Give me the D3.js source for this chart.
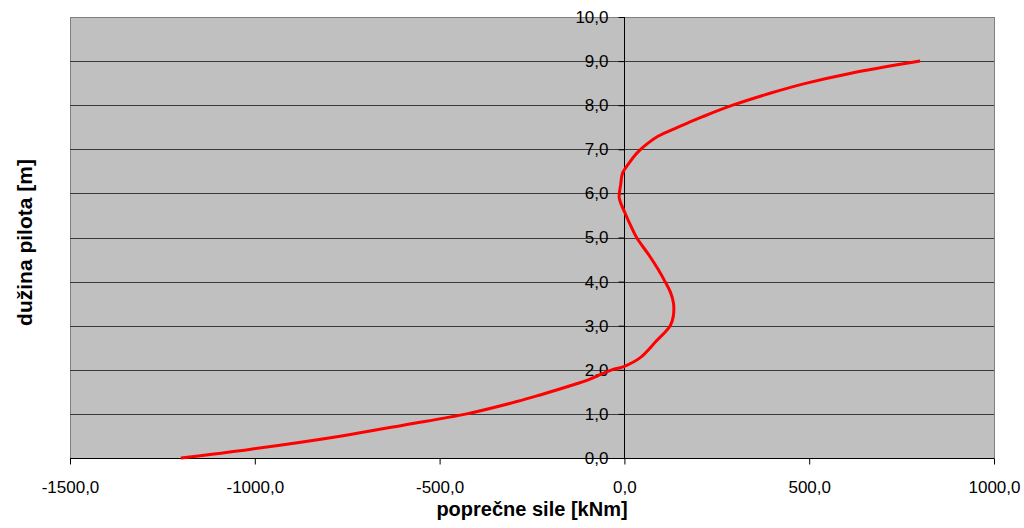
<!DOCTYPE html>
<html>
<head>
<meta charset="utf-8">
<script src="https://cdn.jsdelivr.net/npm/d3@7"></script>
<style>
  html, body { margin: 0; padding: 0; background: #ffffff; }
  svg { display: block; font-family: Arial, "Liberation Sans", sans-serif; }
</style>
</head>
<body>
<svg id="chart" width="1024" height="528"></svg>
<script>
// Depth along the pile [m] and the transverse force at that depth [kNm]
const depths = [0.0, 0.2, 0.5, 0.75, 1.0, 1.28, 1.43, 1.66, 1.79, 2.0, 2.08, 2.27, 2.64, 3.0, 3.2, 3.5,
                3.75, 4.0, 4.27, 4.57, 5.0, 5.25, 5.55, 5.9, 6.2, 6.46, 6.68, 6.85, 7.0, 7.14, 7.3, 7.44,
                7.6, 7.74, 8.0, 8.27, 8.5, 8.72, 9.0];
const forces = [-1200, -1010, -765, -595, -427, -291, -228, -138, -93, -34, 0, 42, 85, 124, 132, 133,
                125, 110, 92, 69, 33, 18, 2, -14, -10, -5, 12, 27, 44, 64, 92, 128,
                172, 212, 293, 394, 493, 610, 800];

const xTicks = [-1500, -1000, -500, 0, 500, 1000];
const yTicks = [0, 1, 2, 3, 4, 5, 6, 7, 8, 9, 10];

const xTitle = "poprečne sile [kNm]";
const yTitle = "dužina pilota [m]";

const svg = d3.select("#chart");
const plotLeft = 70, plotRight = 994, plotTop = 17, plotBottom = 458;

const x = d3.scaleLinear().domain([-1500, 1000]).range([plotLeft, plotRight]);
const y = d3.scaleLinear().domain([0, 10]).range([plotBottom, plotTop]);

// decimal comma, one decimal place
const fmt = v => d3.format(".1f")(v).replace(".", ",").replace("−", "-");

// plot area
svg.append("rect")
  .attr("x", plotLeft + 0.5).attr("y", plotTop + 0.5)
  .attr("width", plotRight - plotLeft).attr("height", plotBottom - plotTop)
  .attr("fill", "#c0c0c0")
  .attr("stroke", "#808080").attr("stroke-width", 1);

// horizontal gridlines
svg.append("g")
  .selectAll("line")
  .data(yTicks.filter(t => t > 0 && t < 10))
  .join("line")
  .attr("x1", plotLeft).attr("x2", plotRight)
  .attr("y1", d => Math.round(y(d)) + 0.5).attr("y2", d => Math.round(y(d)) + 0.5)
  .attr("stroke", "#3a3a3a").attr("stroke-width", 1);

// x axis along the bottom
const xAxis = d3.axisBottom(x).tickValues(xTicks).tickFormat(fmt).tickSize(6).tickPadding(16);
const gx = svg.append("g").attr("transform", `translate(0,${plotBottom + 0.5})`).call(xAxis);
gx.select(".domain").attr("stroke", "#000").attr("d", `M${plotLeft},0H${plotRight}`);
gx.selectAll(".tick line").attr("stroke", "#000");
gx.selectAll(".tick text").attr("font-size", 17).attr("fill", "#000")
  .attr("font-family", "Arial, 'Liberation Sans', sans-serif");

// y axis through x = 0
const yAxis = d3.axisLeft(y).tickValues(yTicks).tickFormat(fmt).tickSize(6).tickPadding(10);
const gy = svg.append("g").attr("transform", `translate(${Math.round(x(0)) + 0.5},0)`).call(yAxis);
gy.select(".domain").attr("stroke", "#000").attr("d", `M0,${plotTop}V${plotBottom}`);
gy.selectAll(".tick line").attr("stroke", "#000");
gy.selectAll(".tick text").attr("font-size", 17).attr("fill", "#000")
  .attr("font-family", "Arial, 'Liberation Sans', sans-serif");

// force curve
const pts = depths.map((m, i) => ({ m, v: forces[i] }));
const line = d3.line().x(d => x(d.v)).y(d => y(d.m)).curve(d3.curveCatmullRom.alpha(0.5));
svg.append("path")
  .datum(pts)
  .attr("d", line)
  .attr("fill", "none")
  .attr("stroke", "#ff0000")
  .attr("stroke-width", 3)
  .attr("stroke-linejoin", "round");

// axis titles
svg.append("text")
  .attr("x", (plotLeft + plotRight) / 2).attr("y", 516)
  .attr("text-anchor", "middle")
  .attr("font-size", 20).attr("font-weight", "bold")
  .text(xTitle);

svg.append("text")
  .attr("transform", `translate(32,${(plotTop + plotBottom) / 2 + 5}) rotate(-90)`)
  .attr("text-anchor", "middle")
  .attr("font-size", 21).attr("font-weight", "bold")
  .text(yTitle);
</script>
</body>
</html>
